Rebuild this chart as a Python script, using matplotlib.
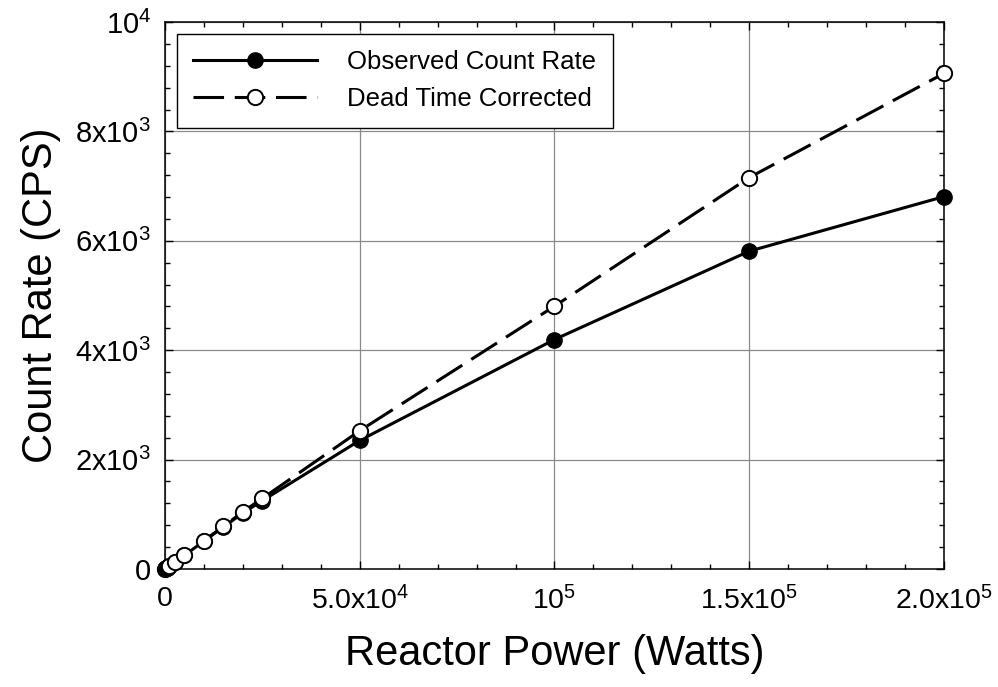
import numpy as np
import matplotlib
matplotlib.use('Agg')
import matplotlib.pyplot as plt
from matplotlib.ticker import FixedLocator, MultipleLocator

plt.rcParams['font.family'] = ['Liberation Sans', 'DejaVu Sans']

# reactor power (W) and count rates
power = [0, 250, 500, 750, 1000, 2500, 5000, 10000, 15000, 20000, 25000,
         50000, 100000, 150000, 200000]
observed = [0, 13, 26, 39, 52, 120, 248, 510, 768, 1022, 1250,
            2350, 4195, 5810, 6808]
corrected = [0, 13, 26, 39, 52, 122, 250, 516, 779, 1046, 1290,
             2527, 4804, 7156, 9060]

x_ticks = [0, 50000, 100000, 150000, 200000]
x_labels = ['0', r'$\mathregular{5.0x10^{4}}$', r'$\mathregular{10^{5}}$',
            r'$\mathregular{1.5x10^{5}}$', r'$\mathregular{2.0x10^{5}}$']
y_ticks = [0, 2000, 4000, 6000, 8000, 10000]
y_labels = ['0', r'$\mathregular{2x10^{3}}$', r'$\mathregular{4x10^{3}}$',
            r'$\mathregular{6x10^{3}}$', r'$\mathregular{8x10^{3}}$',
            r'$\mathregular{10^{4}}$']

fig = plt.figure(figsize=(9.98, 6.87), dpi=100)
ax = fig.add_axes([0.1653, 0.1718, 0.7806, 0.7962])

ax.plot(power, observed, color='black', lw=2.2, marker='o', ms=11,
        mfc='black', mec='black', label='Observed Count Rate', clip_on=False, zorder=3)
ax.plot(power, corrected, color='black', lw=2.2, dashes=(10, 3.5), marker='o', ms=11,
        mfc='white', mec='black', mew=1.4, label='Dead Time Corrected', clip_on=False, zorder=4)

ax.set_xlim(0, 200000)
ax.set_ylim(0, 10000)
ax.xaxis.set_major_locator(FixedLocator(x_ticks))
ax.set_xticklabels(x_labels, fontsize=20.5)
ax.yaxis.set_major_locator(FixedLocator(y_ticks))
ax.set_yticklabels(y_labels, fontsize=21)
ax.xaxis.set_minor_locator(MultipleLocator(10000))
ax.yaxis.set_minor_locator(MultipleLocator(400))

ax.tick_params(which='both', direction='in', top=True, right=True, width=1.0)
ax.tick_params(which='major', length=5.8)
ax.tick_params(which='minor', length=3.4)
ax.tick_params(axis='x', pad=12)
ax.tick_params(axis='y', pad=10)

ax.grid(True, which='major', color='#8a8a8a', lw=0.9)
ax.set_axisbelow(True)
for s in ax.spines.values():
    s.set_linewidth(1.1)

ax.set_xlabel('Reactor Power (Watts)', fontsize=30, labelpad=14)
ax.set_ylabel('Count Rate (CPS)', fontsize=30, labelpad=10)

leg = ax.legend(loc='upper left', fontsize=18.5, handlelength=4.8, handletextpad=1.2,
                borderpad=0.65, fancybox=False, framealpha=1, edgecolor='black',
                borderaxespad=0.45)
leg.get_frame().set_linewidth(1.0)

fig.savefig('out.png', dpi=100)
